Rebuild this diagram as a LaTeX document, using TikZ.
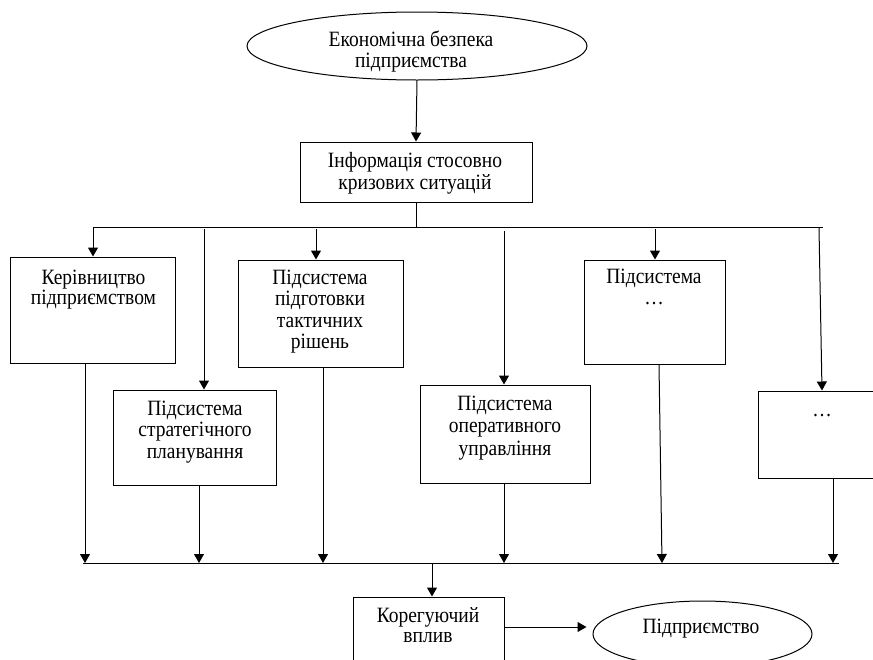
\documentclass[tikz,border=0pt]{standalone}
\usepackage{graphicx}
\usepackage{fontspec}
\setmainfont{Liberation Serif}
\usetikzlibrary{arrows.meta,shapes.geometric}
\newcommand{\mytxt}[1]{\scalebox{1}[1.12]{\begin{tabular}[t]{@{}c@{}}#1\end{tabular}}}
\begin{document}
\begin{tikzpicture}[x=1pt,y=-1pt,
  frame/.style={draw, line width=1pt, inner sep=0pt},
  blk/.style={frame, rectangle},
  oval/.style={frame, ellipse},
  lbl/.style={inner sep=0pt, anchor=base},
  fs/.style={font=\fontsize{19.5}{#1}\selectfont},
  ln/.style={line width=1pt},
  arr/.style={line width=1pt, -{Triangle[length=9pt,width=10pt]}}]
\useasboundingbox (0,0) rectangle (873,659);
\clip (0,0) rectangle (873,659);
% shapes
\node[oval, minimum width=340pt, minimum height=68pt] (eb) at (417,46) {};
\node[lbl, fs=18.75] (ebT) at (411,46) {\mytxt{Економічна безпека\\підприємства}};
\node[blk, minimum width=232pt, minimum height=60pt] (info) at (416,172) {};
\node[lbl, fs=20.5] (infoT) at (415,167) {\mytxt{Інформація стосовно\\кризових ситуацій}};
\node[blk, minimum width=165pt, minimum height=106pt] (ker) at (93,310) {};
\node[lbl, fs=17] (kerT) at (93.5,284) {\mytxt{Керівництво\\підприємством}};
\node[blk, minimum width=163pt, minimum height=95pt] (strat) at (194.5,437.5) {};
\node[lbl, fs=19.2] (stratT) at (195,415) {\mytxt{Підсистема\\стратегічного\\планування}};
\node[blk, minimum width=165pt, minimum height=107pt] (takt) at (320.5,313.5) {};
\node[lbl, fs=19.2] (taktT) at (320,284) {\mytxt{Підсистема\\підготовки\\тактичних\\рішень}};
\node[blk, minimum width=170pt, minimum height=98pt] (oper) at (505,434) {};
\node[lbl, fs=20.1] (operT) at (505,410) {\mytxt{Підсистема\\оперативного\\управління}};
\node[blk, minimum width=141pt, minimum height=104pt] (pid) at (654.5,312) {};
\node[lbl, fs=19.6] (pidT) at (654,283) {\mytxt{Підсистема\\…}};
\node[blk, minimum width=132pt, minimum height=87pt] (dots) at (824,434.5) {};
\node[lbl, fs=20] (dotsT) at (822,416) {\mytxt{…}};
\node[blk, minimum width=151pt, minimum height=103pt] (kor) at (428.5,648.5) {};
\node[lbl, fs=17.9] (korT) at (428,622) {\mytxt{Корегуючий\\вплив}};
\node[oval, minimum width=219pt, minimum height=66pt] (ent) at (702.5,634) {};
\node[lbl, fs=20] (entT) at (701,633) {\mytxt{Підприємство}};
% helper coordinates
\coordinate (bl) at (93,227);
\coordinate (br) at (823,227);
\coordinate (bbl) at (83,563);
\coordinate (bbr) at (839,563);
\coordinate (s1) at (204,229);
\coordinate (s2) at (316,229);
\coordinate (s3) at (504,231);
\coordinate (s4) at (655,229);
\coordinate (s5) at (819,228);
\coordinate (x822) at (822,0);
\coordinate (x85) at (85,0);
\coordinate (x199) at (199,0);
\coordinate (x323) at (323,0);
\coordinate (x504) at (504,0);
\coordinate (x659) at (659,0);
\coordinate (x662) at (662,0);
\coordinate (x833) at (833,0);
\coordinate (x432) at (432,0);
\coordinate (y627) at (0,627);
% top part
\draw[arr] (eb.south) -- (info.north);
\draw[ln] (info.south) -- (info.south |- bl);
\draw[ln] (bl) -- (br);
\draw[arr] (bl) -- (ker.north);
\draw[arr] (s1) -- (s1 |- strat.north);
\draw[arr] (s2) -- (s2 |- takt.north);
\draw[arr] (s3) -- (s3 |- oper.north);
\draw[arr] (s4) -- (s4 |- pid.north);
\draw[arr] (s5) -- (x822 |- dots.north);
% bottom part
\draw[ln] (bbl) -- (bbr);
\draw[arr] (x85 |- ker.south) -- (x85 |- bbl);
\draw[arr] (x199 |- strat.south) -- (x199 |- bbl);
\draw[arr] (x323 |- takt.south) -- (x323 |- bbl);
\draw[arr] (x504 |- oper.south) -- (x504 |- bbl);
\draw[arr] (x659 |- pid.south) -- (x662 |- bbl);
\draw[arr] (x833 |- dots.south) -- (x833 |- bbl);
\draw[arr] (x432 |- bbl) -- (x432 |- kor.north);
\draw[arr, shorten >=6pt] (kor.east |- y627) -- (ent.west |- y627);
\end{tikzpicture}
\end{document}
